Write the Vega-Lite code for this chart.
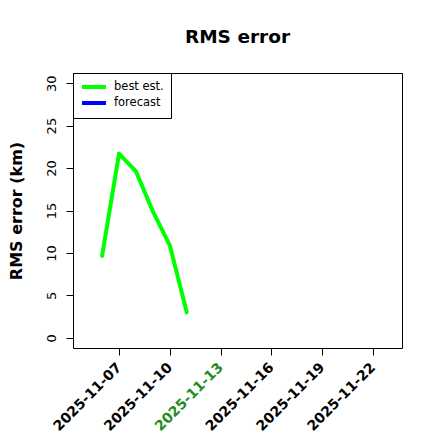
{
  "$schema": "https://vega.github.io/schema/vega-lite/v6.json",
  "width": 329,
  "height": 275,
  "autosize": "none",
  "padding": {"left": 73, "top": 73, "right": 38, "bottom": 92},
  "background": "white",
  "config": {
    "font": "DejaVu Sans",
    "view": {"stroke": "black", "strokeWidth": 1}
  },
  "title": {
    "text": "RMS error",
    "fontSize": 18.5,
    "fontWeight": "bold",
    "font": "DejaVu Sans",
    "anchor": "middle",
    "offset": 26,
    "color": "black"
  },
  "data": {
    "values": [
      {"date": "2025-11-06", "rms": 9.65, "series": "best est."},
      {"date": "2025-11-07", "rms": 21.7, "series": "best est."},
      {"date": "2025-11-08", "rms": 19.6, "series": "best est."},
      {"date": "2025-11-09", "rms": 14.9, "series": "best est."},
      {"date": "2025-11-10", "rms": 10.9, "series": "best est."},
      {"date": "2025-11-11", "rms": 3.0, "series": "best est."}
    ]
  },
  "mark": {"type": "line", "strokeWidth": 4, "strokeCap": "round", "strokeJoin": "round"},
  "encoding": {
    "x": {
      "field": "date",
      "type": "temporal",
      "scale": {
        "type": "utc",
        "nice": false,
        "domain": [
          {"year": 2025, "month": 11, "date": 4, "hours": 6, "minutes": 43, "utc": true},
          {"year": 2025, "month": 11, "date": 23, "hours": 17, "minutes": 17, "utc": true}
        ]
      },
      "axis": {
        "title": null,
        "values": [
          {"year": 2025, "month": 11, "date": 7, "utc": true},
          {"year": 2025, "month": 11, "date": 10, "utc": true},
          {"year": 2025, "month": 11, "date": 13, "utc": true},
          {"year": 2025, "month": 11, "date": 16, "utc": true},
          {"year": 2025, "month": 11, "date": 19, "utc": true},
          {"year": 2025, "month": 11, "date": 22, "utc": true}
        ],
        "labelExpr": "utcFormat(datum.value, '%Y-%m-%d')",
        "labelAngle": -45,
        "labelAlign": "right",
        "labelBaseline": "middle",
        "labelFontSize": 14,
        "labelFontWeight": "bold",
        "labelColor": {
          "condition": {"test": "utcdate(datum.value) == 13", "value": "#228B22"},
          "value": "black"
        },
        "labelPadding": 10,
        "labelOverlap": false,
        "labelFlush": false,
        "domain": false,
        "grid": false,
        "tickColor": "black",
        "tickSize": 7
      }
    },
    "y": {
      "field": "rms",
      "type": "quantitative",
      "scale": {"domain": [-1.2, 31.2], "nice": false, "zero": false},
      "axis": {
        "title": "RMS error (km)",
        "titleFontSize": 16,
        "titleFontWeight": "bold",
        "titleColor": "black",
        "titlePadding": 21,
        "values": [0, 5, 10, 15, 20, 25, 30],
        "labelAngle": -90,
        "labelAlign": "center",
        "labelBaseline": "bottom",
        "labelFontSize": 13,
        "labelColor": "black",
        "labelPadding": 8,
        "domain": false,
        "grid": false,
        "tickColor": "black",
        "tickSize": 7
      }
    },
    "color": {
      "field": "series",
      "type": "nominal",
      "scale": {"domain": ["best est.", "forecast"], "range": ["#00ff00", "#0000ff"]},
      "legend": {
        "title": null,
        "orient": "top-left",
        "offset": 0,
        "padding": 7,
        "strokeColor": "black",
        "fillColor": "white",
        "symbolType": "M-2.4,0H2.4",
        "symbolSize": 100,
        "symbolStrokeWidth": 4,
        "symbolOffset": 7,
        "labelFontSize": 11.5,
        "labelColor": "black",
        "rowPadding": 0,
        "labelOffset": 13
      }
    }
  }
}
